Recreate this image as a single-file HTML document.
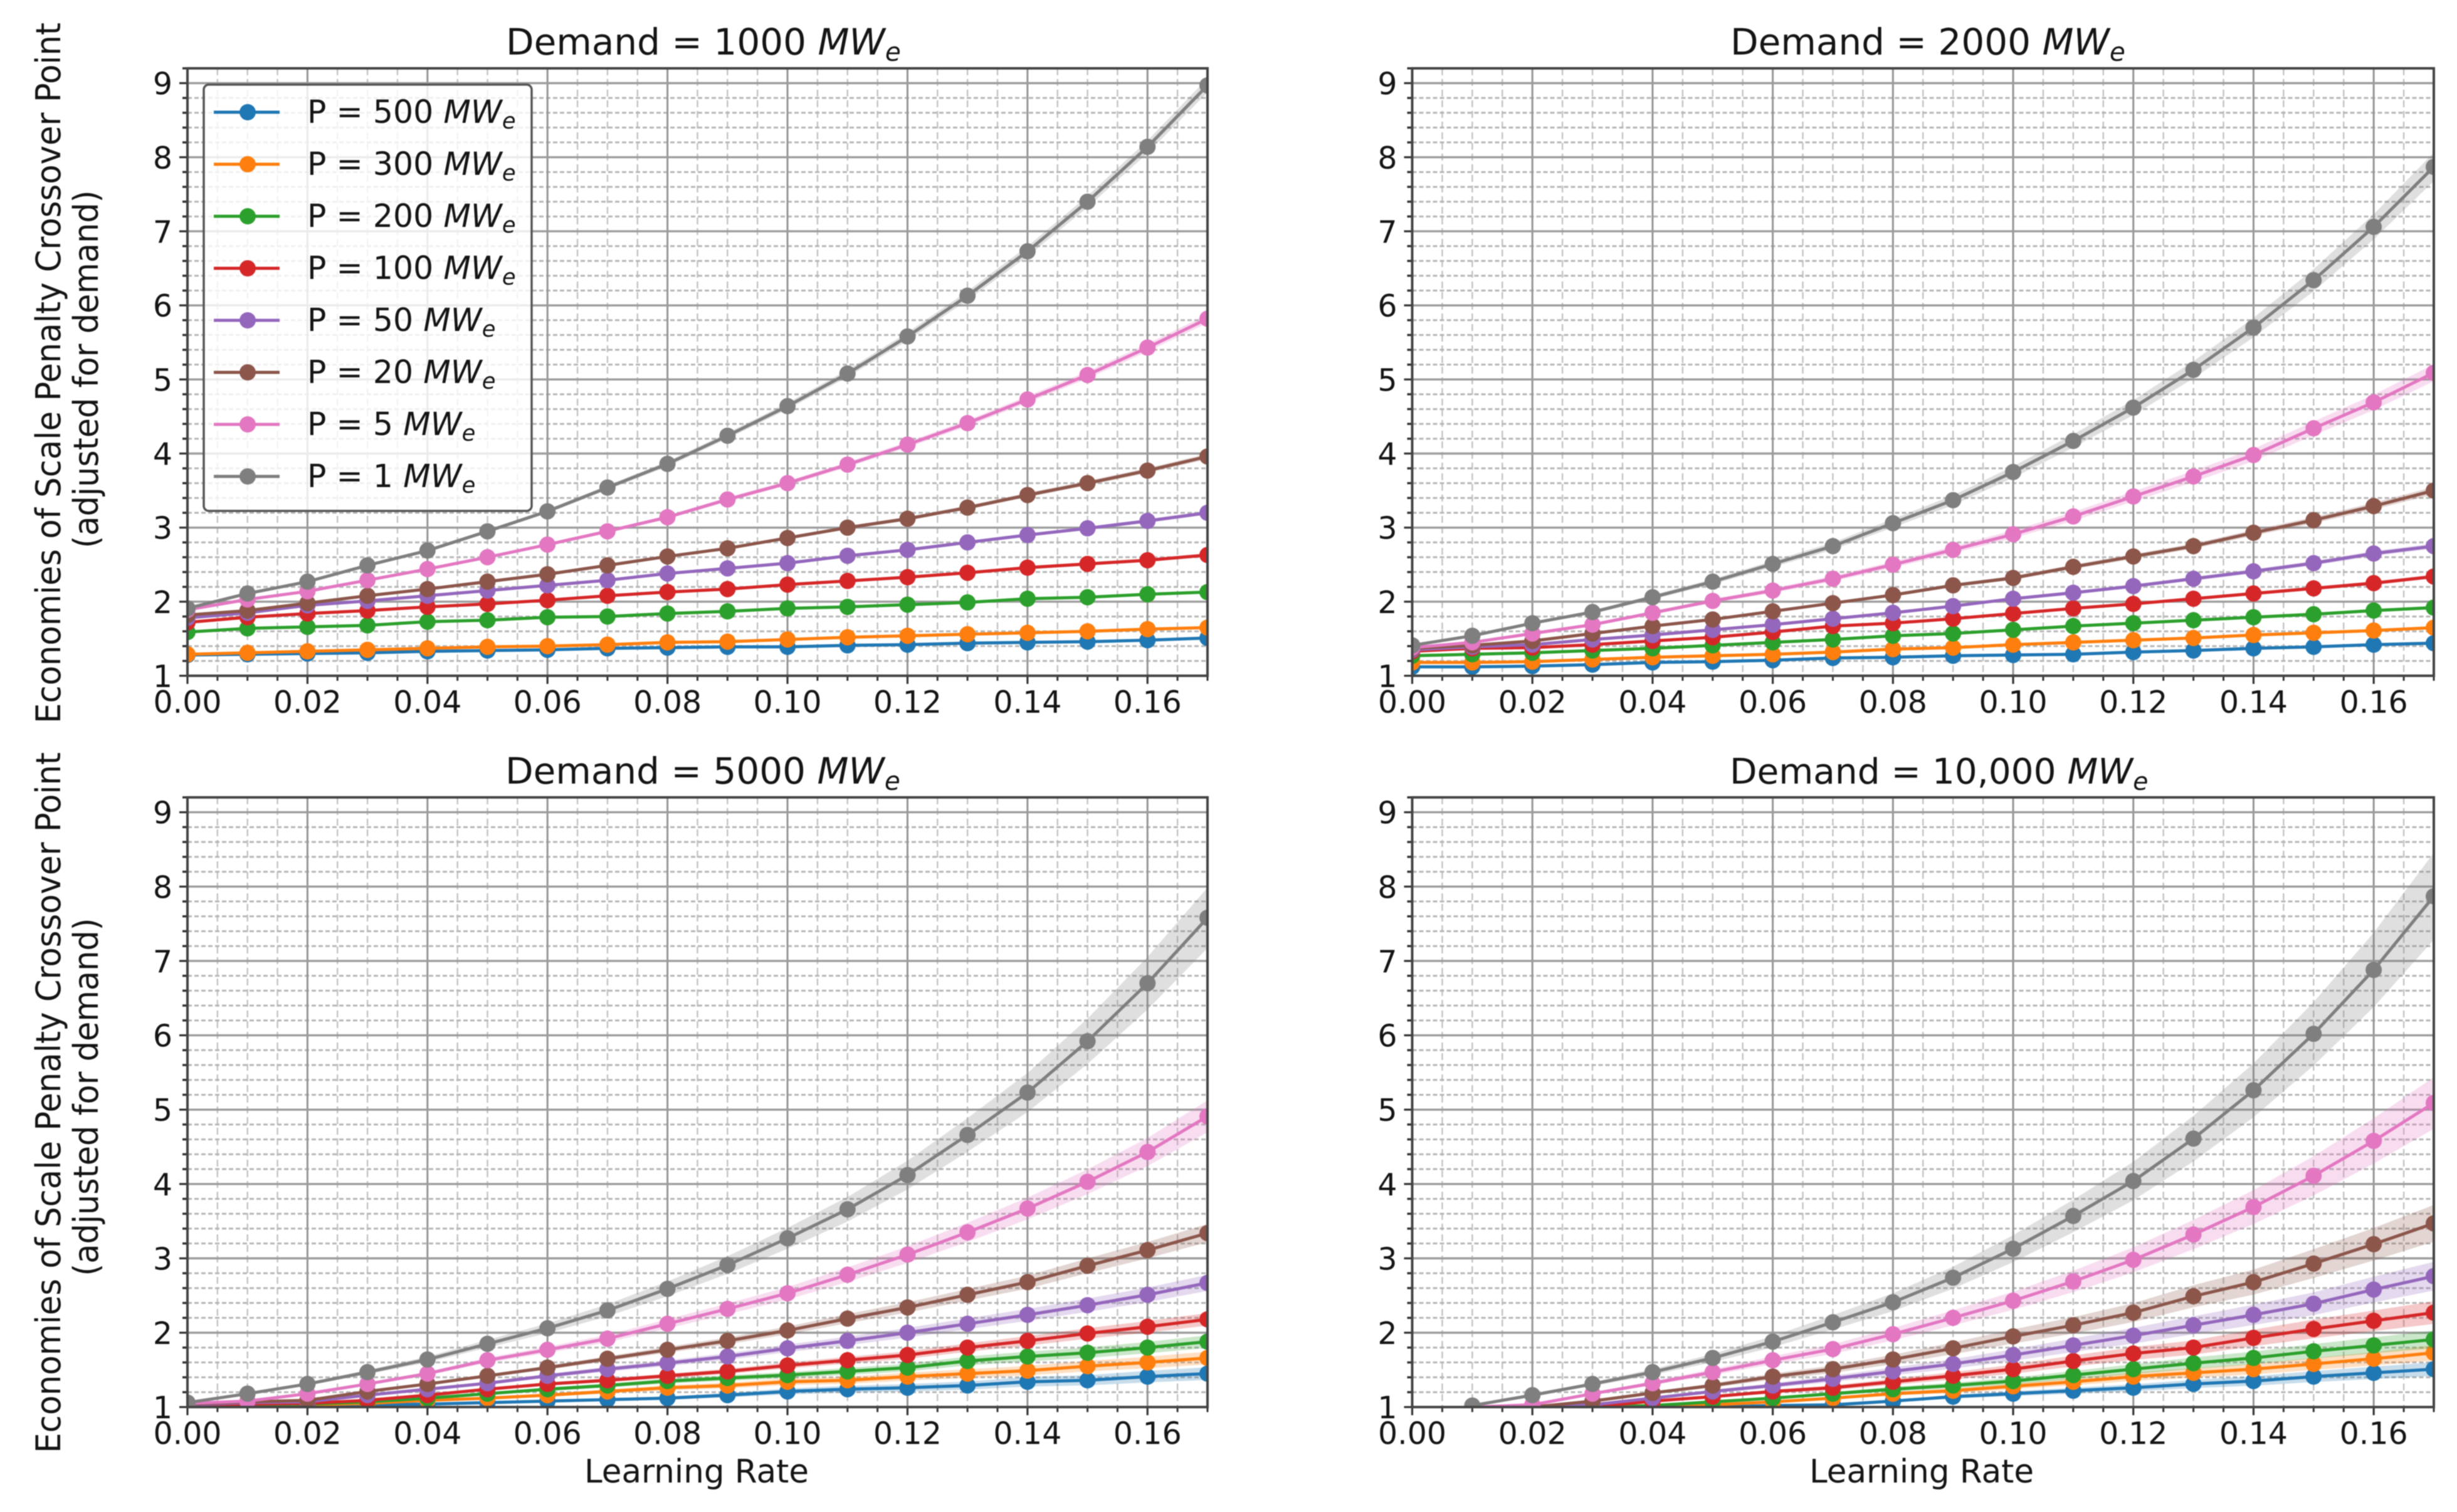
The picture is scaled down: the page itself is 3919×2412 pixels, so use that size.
<!DOCTYPE html>
<html lang="en">
<head>
<meta charset="utf-8">
<title>Economies of Scale Penalty Crossover Point</title>
<style>
  html, body { margin: 0; padding: 0; background: #fff; }
  #figure { display: block; filter: blur(0.9px); }
  text { font-family: "DejaVu Sans", "Liberation Sans", sans-serif; fill: #141414; }
  .title { font-size: 58px; }
  .title-wide { font-size: 56.5px; }
  .axis-label { font-size: 50px; }
  .x-label { font-size: 51.5px; }
  .legend-text { font-size: 50.5px; }
  .tick-label { font-size: 49px; }
  .m { font-style: italic; }
  .s { font-style: italic; font-size: 70%; }
</style>
</head>
<body>
<svg id="figure" xmlns="http://www.w3.org/2000/svg" width="3919" height="2412" viewBox="0 0 3919 2412">
  <rect width="3919" height="2412" fill="#fff"/>
  <g id="plots"></g>

  <text class="title" x="807" y="87">Demand = 1000 <tspan class="m">MW</tspan><tspan class="s" dy="10">e</tspan></text>
  <text class="title" x="2760" y="87">Demand = 2000 <tspan class="m">MW</tspan><tspan class="s" dy="10">e</tspan></text>
  <text class="title" x="806" y="1250">Demand = 5000 <tspan class="m">MW</tspan><tspan class="s" dy="10">e</tspan></text>
  <text class="title title-wide" x="2759" y="1250">Demand = 10,000 <tspan class="m">MW</tspan><tspan class="s" dy="10">e</tspan></text>

  <text class="axis-label" text-anchor="middle" textLength="1118" lengthAdjust="spacingAndGlyphs" transform="translate(96,595) rotate(-90) scale(1,1.08)">Economies of Scale Penalty Crossover Point</text>
  <text class="axis-label" text-anchor="middle" textLength="571" lengthAdjust="spacingAndGlyphs" transform="translate(156,589) rotate(-90) scale(1,1.08)">(adjusted for demand)</text>
  <text class="axis-label" text-anchor="middle" textLength="1118" lengthAdjust="spacingAndGlyphs" transform="translate(96,1759) rotate(-90) scale(1,1.08)">Economies of Scale Penalty Crossover Point</text>
  <text class="axis-label" text-anchor="middle" textLength="571" lengthAdjust="spacingAndGlyphs" transform="translate(156,1750) rotate(-90) scale(1,1.08)">(adjusted for demand)</text>

  <text class="x-label" x="1111" y="2365" text-anchor="middle">Learning Rate</text>
  <text class="x-label" x="3065" y="2365" text-anchor="middle">Learning Rate</text>

  <g>
    <rect x="325" y="135" width="523" height="680" rx="8" ry="8" fill="#fff" fill-opacity="0.8" stroke="#555" stroke-width="3.5"/>
    <g><line x1="341" x2="446" y1="179" y2="179" stroke="#1f77b4" stroke-width="5"/><circle cx="395" cy="179" r="13" fill="#1f77b4"/><text class="legend-text" x="490" y="196">P = 500 <tspan class="m">MW</tspan><tspan class="s" dy="9">e</tspan></text></g>
    <g><line x1="341" x2="446" y1="262" y2="262" stroke="#ff7f0e" stroke-width="5"/><circle cx="395" cy="262" r="13" fill="#ff7f0e"/><text class="legend-text" x="490" y="279">P = 300 <tspan class="m">MW</tspan><tspan class="s" dy="9">e</tspan></text></g>
    <g><line x1="341" x2="446" y1="345" y2="345" stroke="#2ca02c" stroke-width="5"/><circle cx="395" cy="345" r="13" fill="#2ca02c"/><text class="legend-text" x="490" y="362">P = 200 <tspan class="m">MW</tspan><tspan class="s" dy="9">e</tspan></text></g>
    <g><line x1="341" x2="446" y1="428" y2="428" stroke="#d62728" stroke-width="5"/><circle cx="395" cy="428" r="13" fill="#d62728"/><text class="legend-text" x="490" y="445">P = 100 <tspan class="m">MW</tspan><tspan class="s" dy="9">e</tspan></text></g>
    <g><line x1="341" x2="446" y1="511" y2="511" stroke="#9467bd" stroke-width="5"/><circle cx="395" cy="511" r="13" fill="#9467bd"/><text class="legend-text" x="490" y="528">P = 50 <tspan class="m">MW</tspan><tspan class="s" dy="9">e</tspan></text></g>
    <g><line x1="341" x2="446" y1="594" y2="594" stroke="#8c564b" stroke-width="5"/><circle cx="395" cy="594" r="13" fill="#8c564b"/><text class="legend-text" x="490" y="611">P = 20 <tspan class="m">MW</tspan><tspan class="s" dy="9">e</tspan></text></g>
    <g><line x1="341" x2="446" y1="677" y2="677" stroke="#e377c2" stroke-width="5"/><circle cx="395" cy="677" r="13" fill="#e377c2"/><text class="legend-text" x="490" y="694">P = 5 <tspan class="m">MW</tspan><tspan class="s" dy="9">e</tspan></text></g>
    <g><line x1="341" x2="446" y1="760" y2="760" stroke="#7f7f7f" stroke-width="5"/><circle cx="395" cy="760" r="13" fill="#7f7f7f"/><text class="legend-text" x="490" y="777">P = 1 <tspan class="m">MW</tspan><tspan class="s" dy="9">e</tspan></text></g>
  </g>
</svg>

<script>
// Categories and tick labels
const learningRates = [0, 0.01, 0.02, 0.03, 0.04, 0.05, 0.06, 0.07, 0.08, 0.09, 0.10, 0.11, 0.12, 0.13, 0.14, 0.15, 0.16, 0.17];
const xTickLabels = ["0.00", "0.02", "0.04", "0.06", "0.08", "0.10", "0.12", "0.14", "0.16"];
const yTickLabels = ["1", "2", "3", "4", "5", "6", "7", "8", "9"];
const plantSizes = ["500", "300", "200", "100", "50", "20", "5", "1"];
const seriesColors = ["#1f77b4", "#ff7f0e", "#2ca02c", "#d62728", "#9467bd", "#8c564b", "#e377c2", "#7f7f7f"];

// Demand = 1000 MWe
const d1000p500 = [1.28,1.29,1.30,1.31,1.33,1.34,1.35,1.37,1.38,1.39,1.39,1.41,1.42,1.44,1.45,1.46,1.48,1.51];
const d1000p300 = [1.29,1.31,1.33,1.35,1.37,1.39,1.40,1.42,1.45,1.46,1.49,1.52,1.54,1.56,1.58,1.60,1.63,1.65];
const d1000p200 = [1.59,1.64,1.66,1.68,1.73,1.75,1.79,1.80,1.84,1.87,1.91,1.93,1.96,1.99,2.04,2.06,2.10,2.13];
const d1000p100 = [1.72,1.79,1.84,1.88,1.93,1.97,2.02,2.08,2.13,2.17,2.23,2.28,2.33,2.39,2.46,2.51,2.56,2.63];
const d1000p50 = [1.78,1.85,1.95,2.01,2.08,2.15,2.22,2.29,2.38,2.45,2.52,2.62,2.70,2.80,2.90,2.99,3.09,3.20];
const d1000p20 = [1.82,1.88,1.98,2.08,2.17,2.27,2.37,2.49,2.61,2.72,2.86,3.00,3.12,3.27,3.44,3.60,3.77,3.96];
const d1000p5 = [1.89,2.03,2.14,2.29,2.44,2.60,2.77,2.95,3.14,3.38,3.60,3.85,4.12,4.41,4.73,5.06,5.43,5.82];
const d1000p1 = [1.91,2.11,2.27,2.49,2.69,2.95,3.22,3.54,3.86,4.24,4.64,5.08,5.58,6.13,6.73,7.40,8.14,8.97];
const d1000spread = [0.03,0.025,0.015,0.015,0.012,0.012,0.012,0.012];

// Demand = 2000 MWe
const d2000p500 = [1.12,1.12,1.13,1.15,1.18,1.19,1.21,1.24,1.25,1.27,1.28,1.29,1.32,1.34,1.37,1.39,1.42,1.44];
const d2000p300 = [1.18,1.18,1.19,1.22,1.25,1.27,1.29,1.32,1.36,1.38,1.42,1.45,1.48,1.51,1.55,1.58,1.61,1.65];
const d2000p200 = [1.27,1.29,1.31,1.34,1.37,1.41,1.45,1.49,1.54,1.57,1.62,1.67,1.71,1.75,1.79,1.83,1.88,1.92];
const d2000p100 = [1.33,1.37,1.38,1.42,1.47,1.52,1.59,1.67,1.71,1.77,1.84,1.91,1.97,2.04,2.11,2.18,2.25,2.34];
const d2000p50 = [1.35,1.39,1.42,1.49,1.55,1.62,1.69,1.77,1.85,1.94,2.04,2.12,2.21,2.31,2.41,2.52,2.65,2.75];
const d2000p20 = [1.37,1.41,1.47,1.57,1.67,1.76,1.87,1.98,2.09,2.22,2.32,2.47,2.61,2.75,2.93,3.10,3.29,3.50];
const d2000p5 = [1.38,1.45,1.57,1.69,1.85,2.01,2.15,2.31,2.50,2.70,2.91,3.15,3.42,3.69,3.98,4.34,4.69,5.09];
const d2000p1 = [1.41,1.54,1.71,1.86,2.06,2.27,2.51,2.75,3.06,3.37,3.75,4.17,4.62,5.13,5.70,6.34,7.06,7.87];
const d2000spread = [0.05,0.033,0.025,0.02,0.02,0.02,0.028,0.028];

// Demand = 5000 MWe
const d5000p500 = [1.00,1.01,1.02,1.03,1.04,1.06,1.08,1.10,1.12,1.16,1.21,1.24,1.26,1.29,1.34,1.36,1.41,1.45];
const d5000p300 = [1.01,1.02,1.03,1.05,1.09,1.12,1.16,1.21,1.26,1.29,1.34,1.36,1.41,1.45,1.49,1.55,1.60,1.66];
const d5000p200 = [1.02,1.03,1.04,1.07,1.12,1.18,1.24,1.29,1.35,1.39,1.43,1.48,1.53,1.62,1.68,1.73,1.80,1.88];
const d5000p100 = [1.02,1.04,1.05,1.09,1.16,1.24,1.31,1.36,1.42,1.48,1.56,1.63,1.70,1.80,1.89,1.99,2.08,2.18];
const d5000p50 = [1.03,1.06,1.07,1.16,1.24,1.32,1.42,1.51,1.59,1.68,1.79,1.89,2.00,2.12,2.24,2.37,2.51,2.67];
const d5000p20 = [1.04,1.07,1.09,1.21,1.31,1.42,1.53,1.65,1.77,1.89,2.03,2.19,2.34,2.51,2.68,2.90,3.11,3.34];
const d5000p5 = [1.05,1.08,1.18,1.31,1.45,1.63,1.77,1.92,2.12,2.32,2.53,2.78,3.05,3.35,3.67,4.03,4.43,4.91];
const d5000p1 = [1.06,1.18,1.31,1.47,1.64,1.85,2.06,2.30,2.59,2.91,3.27,3.66,4.12,4.66,5.23,5.92,6.70,7.58];
const d5000spread = [0.19,0.13,0.097,0.072,0.065,0.052,0.055,0.062];

// Demand = 10,000 MWe (points below 1 are not plotted)
const d10000p500 = [null,null,null,null,null,1.00,1.02,1.03,1.08,1.14,1.18,1.22,1.26,1.31,1.35,1.41,1.46,1.51];
const d10000p300 = [null,null,null,null,1.00,1.03,1.07,1.12,1.18,1.22,1.28,1.34,1.41,1.46,1.51,1.58,1.65,1.73];
const d10000p200 = [null,null,null,1.00,1.02,1.07,1.12,1.18,1.24,1.29,1.35,1.43,1.51,1.59,1.66,1.75,1.83,1.91];
const d10000p100 = [null,null,null,1.00,1.08,1.14,1.21,1.26,1.34,1.42,1.51,1.62,1.72,1.80,1.93,2.05,2.16,2.27];
const d10000p50 = [null,null,1.00,1.03,1.12,1.21,1.29,1.38,1.48,1.58,1.70,1.83,1.96,2.10,2.24,2.39,2.58,2.76];
const d10000p20 = [null,null,1.00,1.08,1.19,1.29,1.41,1.51,1.64,1.79,1.95,2.10,2.27,2.49,2.68,2.93,3.19,3.47];
const d10000p5 = [null,1.00,1.03,1.18,1.32,1.47,1.63,1.78,1.98,2.20,2.43,2.69,2.98,3.32,3.69,4.11,4.58,5.09];
const d10000p1 = [null,1.02,1.16,1.31,1.47,1.66,1.88,2.14,2.41,2.74,3.13,3.57,4.04,4.61,5.26,6.02,6.88,7.87];
const d10000spread = [0.18,0.14,0.13,0.12,0.11,0.10,0.085,0.085];

// Layout (pixels) kept apart from the data
const xMax = 0.17, yMin = 1, yMax = 9.2;
const xMinorStep = 0.005, yMinorStep = 0.2;
const layouts = [
  { key: "demand-1000", left: 299, right: 1926, top: 109, bottom: 1078, series: [d1000p500, d1000p300, d1000p200, d1000p100, d1000p50, d1000p20, d1000p5, d1000p1], spread: d1000spread },
  { key: "demand-2000", left: 2252.5, right: 3882, top: 109, bottom: 1078, series: [d2000p500, d2000p300, d2000p200, d2000p100, d2000p50, d2000p20, d2000p5, d2000p1], spread: d2000spread },
  { key: "demand-5000", left: 299, right: 1926, top: 1272, bottom: 2244.6, series: [d5000p500, d5000p300, d5000p200, d5000p100, d5000p50, d5000p20, d5000p5, d5000p1], spread: d5000spread },
  { key: "demand-10000", left: 2252.5, right: 3882, top: 1272, bottom: 2244.6, series: [d10000p500, d10000p300, d10000p200, d10000p100, d10000p50, d10000p20, d10000p5, d10000p1], spread: d10000spread }
];

const NS = "http://www.w3.org/2000/svg";
const plots = document.getElementById("plots");
const defs = document.createElementNS(NS, "defs");
plots.appendChild(defs);

function drawLine(parent, x1, y1, x2, y2, stroke, width, dash) {
  const el = document.createElementNS(NS, "line");
  el.setAttribute("x1", x1);
  el.setAttribute("y1", y1);
  el.setAttribute("x2", x2);
  el.setAttribute("y2", y2);
  el.setAttribute("stroke", stroke);
  el.setAttribute("stroke-width", width);
  if (dash) el.setAttribute("stroke-dasharray", dash);
  parent.appendChild(el);
  return el;
}

layouts.forEach(function (p) {
  const xAxis = function (v) { return p.left + (v / xMax) * (p.right - p.left); };
  const yAxis = function (v) { return p.bottom - ((v - yMin) / (yMax - yMin)) * (p.bottom - p.top); };

  const panel = document.createElementNS(NS, "g");
  
  
  plots.appendChild(panel);

  const clip = document.createElementNS(NS, "clipPath");
  clip.setAttribute("id", "clip-" + p.key);
  const clipRect = document.createElementNS(NS, "rect");
  clipRect.setAttribute("x", p.left);
  clipRect.setAttribute("y", p.top);
  clipRect.setAttribute("width", p.right - p.left);
  clipRect.setAttribute("height", p.bottom - p.top);
  clip.appendChild(clipRect);
  defs.appendChild(clip);

  // Grid
  const grid = document.createElementNS(NS, "g");
  
  
  panel.appendChild(grid);

  const ticks = document.createElementNS(NS, "g");
  
  

  const xMinorCount = Math.round(xMax / xMinorStep);
  for (let i = 0; i <= xMinorCount; i++) {
    if (i % 4 === 0) continue;
    const x = xAxis(i * xMinorStep);
    const g = drawLine(grid, x, p.top, x, p.bottom, "#c2c2c2", 2.4, "11 6");
    
    
    const t = drawLine(ticks, x, p.bottom, x, p.bottom + 8, "#333", 3);
    
    
  }
  const yMinorCount = Math.round((yMax - yMin) / yMinorStep);
  for (let i = 1; i <= yMinorCount; i++) {
    if (i % 5 === 0) continue;
    const y = yAxis(yMin + i * yMinorStep);
    const g = drawLine(grid, p.left, y, p.right, y, "#b6b6b6", 3, "7 4");
    
    
    const t = drawLine(ticks, p.left - 8, y, p.left, y, "#333", 3.5);
    
    
  }
  xTickLabels.forEach(function (label) {
    const x = xAxis(parseFloat(label));
    const g = drawLine(grid, x, p.top, x, p.bottom, "#949494", 3);
    
    
    const t = drawLine(ticks, x, p.bottom, x, p.bottom + 13, "#333", 3.2);
    
    
    const txt = document.createElementNS(NS, "text");
    txt.setAttribute("class", "tick-label");
    txt.setAttribute("text-anchor", "middle");
    txt.setAttribute("x", x);
    txt.setAttribute("y", p.bottom + 59);
    
    
    txt.textContent = label;
    ticks.appendChild(txt);
  });
  yTickLabels.forEach(function (label) {
    const y = yAxis(parseFloat(label));
    const g = drawLine(grid, p.left, y, p.right, y, "#9c9c9c", 3.4);
    
    
    const t = drawLine(ticks, p.left - 13, y, p.left, y, "#333", 3.2);
    
    
    const txt = document.createElementNS(NS, "text");
    txt.setAttribute("class", "tick-label");
    txt.setAttribute("text-anchor", "end");
    txt.setAttribute("x", p.left - 24);
    txt.setAttribute("y", y + 18);
    
    
    txt.textContent = label;
    ticks.appendChild(txt);
  });

  // Series
  const marks = document.createElementNS(NS, "g");
  marks.setAttribute("clip-path", "url(#clip-" + p.key + ")");
  
  
  panel.appendChild(marks);

  p.series.forEach(function (values, s) {
    const color = seriesColors[s];
    const size = plantSizes[s];
    const upper = [], lower = [], linePts = [];
    values.forEach(function (v, i) {
      if (v === null) return;
      const x = xAxis(learningRates[i]);
      const half = p.spread[s] * (v - 1);
      upper.push(x.toFixed(1) + "," + yAxis(v + half).toFixed(1));
      lower.unshift(x.toFixed(1) + "," + yAxis(v - half).toFixed(1));
      linePts.push(x.toFixed(1) + "," + yAxis(v).toFixed(1));
    });

    const band = document.createElementNS(NS, "polygon");
    band.setAttribute("points", upper.concat(lower).join(" "));
    band.setAttribute("fill", color);
    band.setAttribute("fill-opacity", "0.25");
    
    
    marks.appendChild(band);

    const line = document.createElementNS(NS, "polyline");
    line.setAttribute("points", linePts.join(" "));
    line.setAttribute("fill", "none");
    line.setAttribute("stroke", color);
    line.setAttribute("stroke-width", "5");
    
    
    marks.appendChild(line);

    values.forEach(function (v, i) {
      if (v === null) return;
      const c = document.createElementNS(NS, "circle");
      c.setAttribute("cx", xAxis(learningRates[i]).toFixed(1));
      c.setAttribute("cy", yAxis(v).toFixed(1));
      c.setAttribute("r", "13");
      c.setAttribute("fill", color);
      
      
      marks.appendChild(c);
    });
  });

  // Ticks and frame sit above the series
  panel.appendChild(ticks);
  const frame = document.createElementNS(NS, "rect");
  frame.setAttribute("x", p.left);
  frame.setAttribute("y", p.top);
  frame.setAttribute("width", p.right - p.left);
  frame.setAttribute("height", p.bottom - p.top);
  frame.setAttribute("fill", "none");
  frame.setAttribute("stroke", "#444");
  frame.setAttribute("stroke-width", "4");
  
  
  panel.appendChild(frame);
});
</script>
</body>
</html>
